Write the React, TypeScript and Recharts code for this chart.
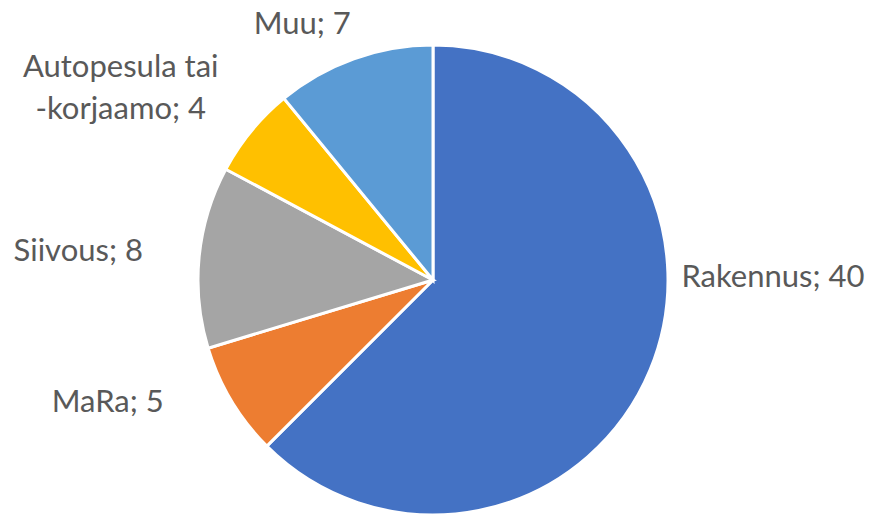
import React from 'react';
import { PieChart, Pie, Cell } from 'recharts';

// luvut kuvasta
const categories = ['Rakennus', 'MaRa', 'Siivous', 'Autopesula tai -korjaamo', 'Muu'];
const labelLines = [['Rakennus'], ['MaRa'], ['Siivous'], ['Autopesula tai', '-korjaamo'], ['Muu']];
const values = [40, 5, 8, 4, 7];
const colors = ['#4472C4', '#ED7D31', '#A5A5A5', '#FFC000', '#5B9BD5'];

const data = categories.map((name, i) => ({ name, value: values[i] }));

// Excel "best fit" label spots: [angle in degrees, distance from centre]
const LABEL_SPOT: [number, number][] = [
  [0.7, 340],
  [-159.6, 347],
  [175.2, 356],
  [148.3, 367],
  [117, 288],
];

const FONT = 31;
const LINE_GAP = 42;
const CAP_HALF = 11;

const renderLabel = (props: any) => {
  const { cx, cy, index, value } = props;
  const [deg, dist] = LABEL_SPOT[index];
  const rad = (deg * Math.PI) / 180;
  const x = cx + dist * Math.cos(rad);
  const y = cy - dist * Math.sin(rad);
  const lines = labelLines[index].slice();
  lines[lines.length - 1] = `${lines[lines.length - 1]}; ${value}`;
  const top = y - ((lines.length - 1) * LINE_GAP) / 2 + CAP_HALF;
  return (
    <text
      key={`lbl-${index}`}
      x={x}
      y={top}
      textAnchor="middle"
      fill="#595959"
      fontSize={FONT}
      fontFamily="Lato, 'Noto Sans', sans-serif"
    >
      {lines.map((l, i) => (
        <tspan key={i} x={x} y={top + i * LINE_GAP}>
          {l}
        </tspan>
      ))}
    </text>
  );
};

export default function App() {
  return (
    <div style={{ position: 'fixed', left: 0, top: 0, width: 874, height: 515, background: '#fff' }}>
      <PieChart width={874} height={515} margin={{ top: 0, right: 0, bottom: 0, left: 0 }}>
        <Pie
          data={data}
          dataKey="value"
          nameKey="name"
          cx={433}
          cy={280}
          outerRadius={235}
          startAngle={90}
          endAngle={-270}
          stroke="#ffffff"
          strokeWidth={3}
          label={renderLabel}
          labelLine={false}
          isAnimationActive={false}
        >
          {data.map((d, i) => (
            <Cell key={d.name} fill={colors[i]} />
          ))}
        </Pie>
      </PieChart>
    </div>
  );
}
